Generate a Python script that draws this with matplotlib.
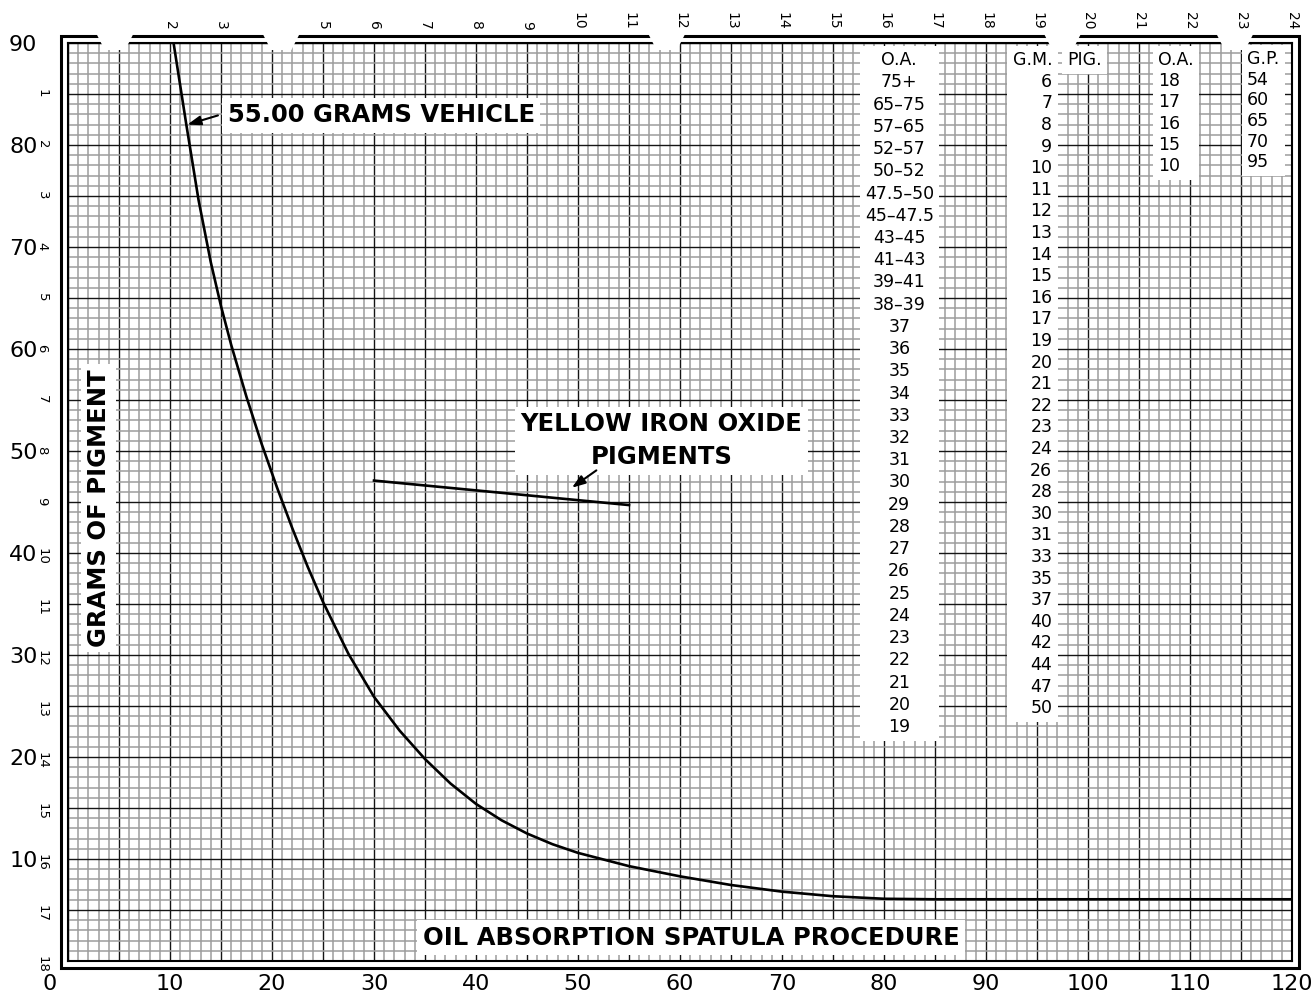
import matplotlib
matplotlib.use('Agg')
import matplotlib.pyplot as plt
import matplotlib.transforms as mtransforms
from matplotlib.ticker import MultipleLocator, FuncFormatter
from matplotlib.patches import Polygon, Rectangle


# 55.00 grams vehicle curve (oil absorption vs grams of pigment)
oil_abs = [10.35, 11.6, 12.8, 14, 15, 16, 17.5, 19, 20.5, 22, 23.5, 25, 27.5, 30,
           32.5, 35, 37.5, 40, 42.5, 45, 47.5, 50, 55, 60, 65, 70, 75, 80, 85, 120]
grams_pig = [90, 82, 74.6, 68.5, 64.2, 60.4, 55.3, 50.65, 46.4, 42.4, 38.65, 35.2,
             30.1, 25.9, 22.6, 19.8, 17.4, 15.4, 13.8, 12.5, 11.45, 10.6, 9.3, 8.3,
             7.45, 6.8, 6.35, 6.1, 6.05, 6.05]

# yellow iron oxide pigments line
yio_x = [30, 55]
yio_y = [47.1, 44.7]

# inner scales printed on the paper
top_scale = [2, 3] + list(range(5, 25))
left_scale = list(range(1, 19))

# conversion table columns
oa_col = ['O.A.', '75+', '65–75', '57–65', '52–57', '50–52', '47.5–50', '45–47.5',
          '43–45', '41–43', '39–41', '38–39', '37', '36', '35', '34', '33', '32',
          '31', '30', '29', '28', '27', '26', '25', '24', '23', '22', '21', '20', '19']
gm_col = ['G.M.', '6', '7', '8', '9', '10', '11', '12', '13', '14', '15', '16', '17',
          '19', '20', '21', '22', '23', '24', '26', '28', '30', '31', '33', '35', '37',
          '40', '42', '44', '47', '50']
oa2_col = ['O.A.', '18', '17', '16', '15', '10']
gp_col = ['G.P.', '54', '60', '65', '70', '95']

# binder notches along the top edge (x units)
notches = [4.6, 20.9, 58.7, 97.5, 114.4]


fig = plt.figure(figsize=(13.12, 9.97), dpi=100)
W, H = 1312, 997
L, R, T, B = 68, 1292, 43, 961
ax = fig.add_axes([L / W, 1 - B / H, (R - L) / W, (B - T) / H])

ax.set_xlim(0, 120)
ax.set_ylim(0, 90)
for a in (ax.xaxis, ax.yaxis):
    a.set_major_locator(MultipleLocator(5))
    a.set_minor_locator(MultipleLocator(1))
    a.set_major_formatter(FuncFormatter(lambda v, p: '%d' % v if v % 10 == 0 and v > 0 else ''))
ax.tick_params(which='both', length=0)
ax.tick_params(axis='x', labelsize=16, pad=9)
ax.tick_params(axis='y', labelsize=16, pad=22)
ax.grid(which='minor', color='#9c9c9c', lw=1.1, zorder=0.5)
ax.grid(which='major', color='#151515', lw=1.0, zorder=0.6)
ax.set_axisbelow(True)
for s in ax.spines.values():
    s.set_linewidth(1.5)

ax.annotate('0', xy=(0, 0), xytext=(-13, -9), textcoords='offset points',
            ha='center', va='top', fontsize=16)

top = ax.secondary_xaxis('top', functions=(lambda x: x / 5, lambda k: k * 5))
top.set_xticks(top_scale)
top.set_xticklabels([str(k) for k in top_scale], rotation=-90, fontsize=10)
top.tick_params(length=0, pad=9.5)
top.spines['top'].set_visible(False)

left = ax.secondary_yaxis('left', functions=(lambda y: (90 - y) / 5, lambda k: 90 - 5 * k))
left.set_yticks(left_scale)
left.set_yticklabels([str(k) for k in left_scale], rotation=-90, fontsize=9.5)
left.tick_params(length=0, pad=14)
left.spines['left'].set_visible(False)

# curves
ax.plot(oil_abs, grams_pig, color='black', lw=1.9, zorder=3)
ax.plot(yio_x, yio_y, color='black', lw=1.9, zorder=3)

# outer border and notches
d = 7
ax.add_patch(Rectangle(((L - d) / W, 1 - (B + d) / H), (R - L + 2 * d) / W, (B - T + 2 * d) / H,
                       transform=fig.transFigure, fill=False, ec='black', lw=2.2,
                       clip_on=False, zorder=5))
ntr = mtransforms.blended_transform_factory(ax.transData, ax.transAxes)
up, dn = 1 + 11 / (B - T), 1 - 7 / (B - T)
for c in notches:
    ax.add_patch(Polygon([(c - 1.9, up), (c + 1.9, up), (c + 1.0, dn), (c - 1.0, dn)],
                         closed=True, transform=ntr, fc='white', ec='none',
                         clip_on=False, zorder=6))

# table
tkw = dict(fontsize=12.5, va='top', zorder=7,
           bbox=dict(boxstyle='square,pad=0.3', fc='white', ec='none'))
ax.text(81.5, 89.2, '\n'.join(oa_col), ha='center', multialignment='center', linespacing=1.302, **tkw)
ax.text(96.5, 89.2, '\n'.join(gm_col), ha='right', multialignment='right', linespacing=1.257, **tkw)
ax.text(98.0, 89.2, 'PIG.', ha='left', **tkw)
ax.text(106.9, 89.2, '\n'.join(oa2_col), ha='left', linespacing=1.226, **tkw)
ax.text(115.6, 89.3, '\n'.join(gp_col), ha='left', linespacing=1.185, **tkw)

# labels
lkw = dict(fontsize=17.5, fontweight='bold', ha='center', va='center', zorder=7,
           bbox=dict(boxstyle='square,pad=0.22', fc='white', ec='none'))
ax.text(30.7, 82.9, '55.00 GRAMS VEHICLE', **lkw)
ax.text(58.2, 51.0, 'YELLOW IRON OXIDE\nPIGMENTS', multialignment='center', linespacing=1.46, **lkw)
ax.text(3.0, 44.4, 'GRAMS OF PIGMENT', rotation=90, **lkw)
ax.text(61.1, 2.3, 'OIL ABSORPTION SPATULA PROCEDURE', **lkw)

akw = dict(arrowstyle='-|>,head_length=0.57,head_width=0.2', mutation_scale=14,
           color='black', lw=1.5, shrinkA=0, shrinkB=0)
ax.annotate('', xy=(11.7, 82.0), xytext=(14.7, 82.9), arrowprops=akw, zorder=7)
ax.annotate('', xy=(49.4, 46.4), xytext=(51.8, 48.1), arrowprops=akw, zorder=7)

fig.savefig('out.png', dpi=100)
